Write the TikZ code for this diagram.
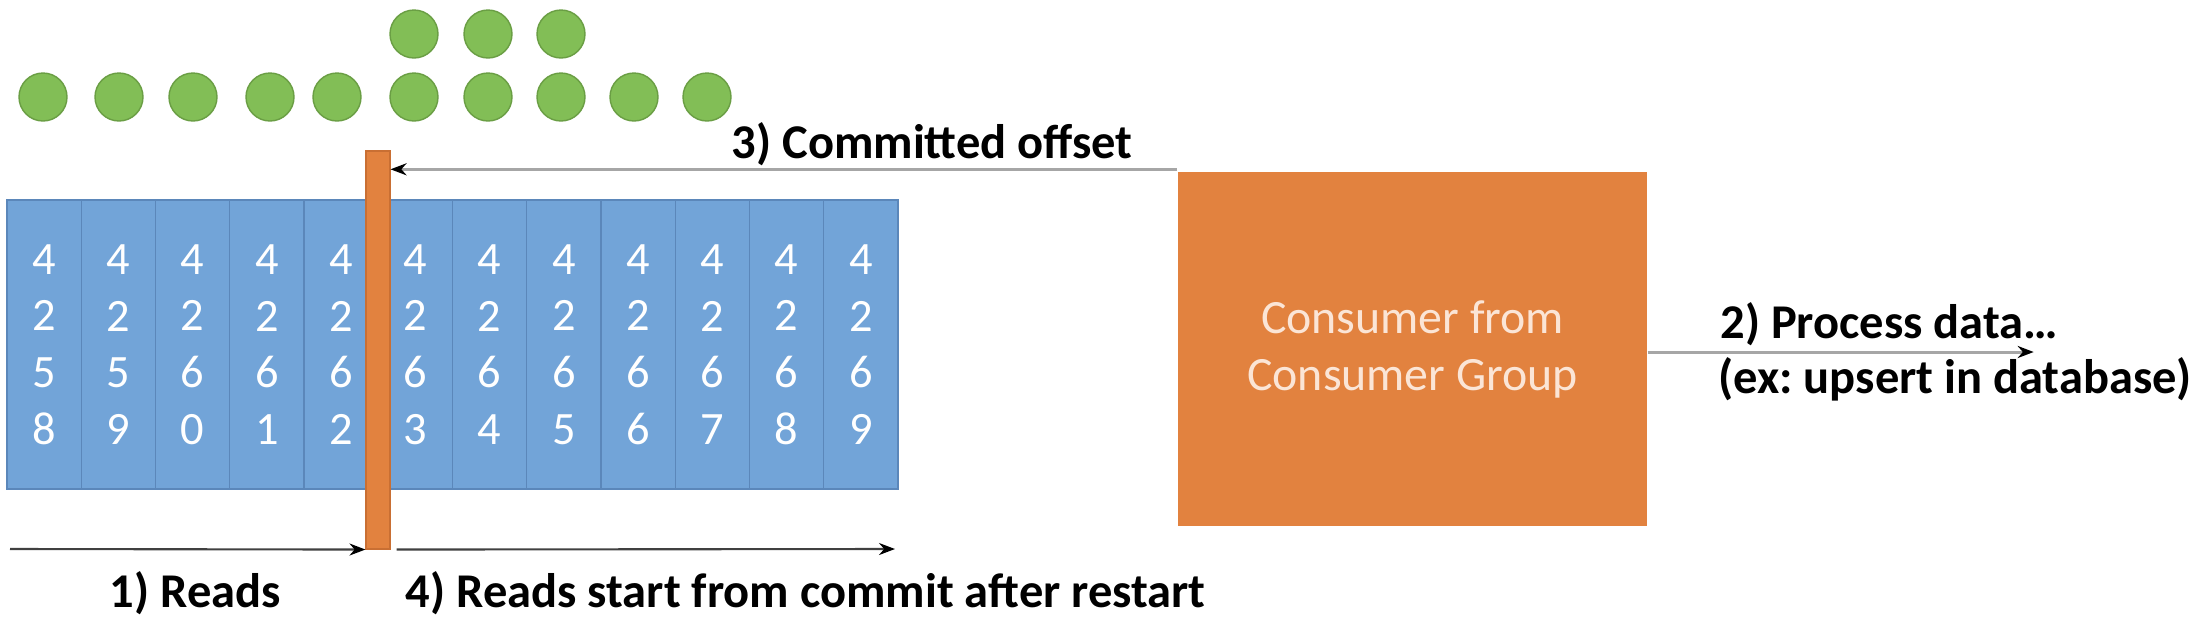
\documentclass[tikz,border=0pt]{standalone}
\usepackage{fontspec}
\setmainfont{Carlito}
\usetikzlibrary{positioning,arrows.meta}

\definecolor{cellblue}{HTML}{72A4D8}
\definecolor{cellline}{HTML}{5B87BA}
\definecolor{dotgreen}{HTML}{82BE56}
\definecolor{dotline}{HTML}{6A9E44}
\definecolor{consorange}{HTML}{E2823F}
\definecolor{consline}{HTML}{C96F33}
\definecolor{constext}{HTML}{FBE5D6}

\begin{document}
\begin{tikzpicture}[>={Stealth[length=0.16cm,width=0.12cm,color=black]},
    cell/.style={rectangle,draw=cellline,fill=cellblue,line width=0.3pt,
        minimum width=0.7425cm,minimum height=2.89cm,inner sep=0pt,
        text=white,align=center,font=\fontsize{13.2}{16.1}\selectfont},
    dot/.style={circle,draw=dotline,fill=dotgreen,line width=0.4pt,
        minimum size=0.48cm,inner sep=0pt},
    marker/.style={rectangle,draw=consline,fill=consorange,line width=0.3pt,
        minimum width=0.24cm,minimum height=3.98cm,inner sep=0pt},
    consumer/.style={rectangle,fill=consorange,minimum width=4.69cm,
        minimum height=3.54cm,text=constext,align=center,
        font=\fontsize{13.6}{16.2}\selectfont},
    lbl/.style={font=\bfseries\fontsize{13.8}{15}\selectfont,inner sep=0pt},
    flow/.style={->,line width=0.6pt,draw=black!75},
    feed/.style={->,line width=0.85pt,draw=black!35}]
\useasboundingbox (0,0) rectangle (21.9,6.28);

%% Partition with its offsets
\foreach \a/\b [count=\i] in {5/8,5/9,6/0,6/1,6/2,6/3,6/4,6/5,6/6,6/7,6/8,6/9}
   \node [cell] (c\i) at ({0.07+0.7425*(\i-0.5)},2.835) {4\\2\\\a\\\b};

%% Messages
\foreach \x [count=\i] in {0.43,1.19,1.93,2.70,3.37,4.14,4.88,5.61,6.34,7.07}
   \node [dot] (d\i) at (\x,5.31) {};
\foreach \i in {6,7,8}
   \node [dot,on grid] (t\i) [above=0.63cm of d\i] {};

%% Commit marker and consumer
\node [marker]   (bar)  at (3.78,2.78) {};
\node [consumer] (cons) at (14.125,2.79) {Consumer from\\Consumer Group};

\coordinate (rstart) at (0.10,0.79);
\coordinate (rend)   at (8.95,0.79);
\coordinate (pstart) at ([yshift=-0.03cm]cons.east);
\coordinate (pend)   at ([xshift=3.86cm]pstart);

\draw [feed] ([yshift=0.02cm]cons.north west) -- ([yshift=0.02cm]cons.north west -| bar.east);
\draw [feed] (pstart) -- (pend);
\draw [flow] (rstart) -- (bar.south west);
\draw [flow] ([xshift=0.06cm]bar.south east) -- (rend);

%% Labels
\node [lbl,anchor=base east] (lcommit) at ([xshift=-0.44cm,yshift=0.13cm]cons.north west) {3) Committed offset};
\node [lbl,anchor=base west] (lproc)   at ([xshift=0.72cm,yshift=0.14cm]pstart) {2) Process data…};
\node [lbl,anchor=base west] (lex)     at ([xshift=0.70cm,yshift=-0.41cm]pstart) {(ex:\ upsert in database)};
\node [lbl,anchor=base west] (lreads)  at (1.09,0.21) {1) Reads};
\node [lbl,anchor=base west] (lrestart) at (4.05,0.21) {4) Reads start from commit after restart};
\end{tikzpicture}
\end{document}
